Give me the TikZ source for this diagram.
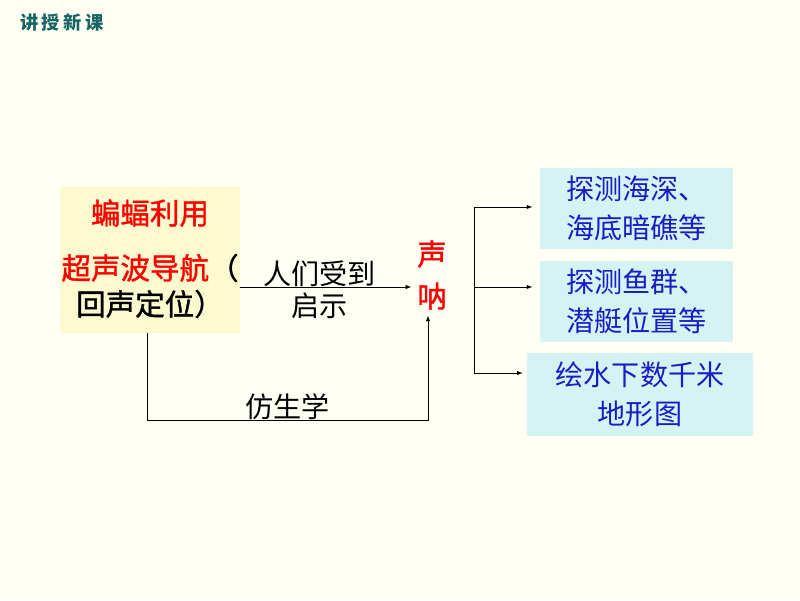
\documentclass[tikz,border=0pt]{standalone}
\usepackage{fontspec}
\newfontfamily\cjk{Noto Sans CJK SC}
\newfontfamily\cjkhei[FakeBold=1.2]{Noto Sans CJK SC}
\usetikzlibrary{positioning}

\definecolor{bgcream}{RGB}{255,255,243}
\definecolor{boxyellow}{RGB}{252,250,206}
\definecolor{boxcyan}{RGB}{214,243,243}
\definecolor{titleteal}{RGB}{24,100,100}
\definecolor{textblue}{RGB}{28,28,196}

\tikzset{
  box/.style={inner sep=0pt},
  line/.style={black, thin},
  word/.style={font=\cjk\fontsize{20}{28}\selectfont, inner sep=1pt},
  heiword/.style={font=\cjkhei\fontsize{21}{30}\selectfont, inner sep=1pt},
}

\begin{document}
\begin{tikzpicture}[x=0.025cm, y=-0.025cm, >=latex]
    % Fondo
    \fill[bgcream] (0,0) rectangle (800,600);
    \useasboundingbox (0,0) rectangle (800,600);

    % Titulo
    \node[titleteal, font=\cjk\bfseries\fontsize{13}{14}\selectfont] (title) at (62,22) {讲\hspace{2.5pt}授\hspace{2.5pt}新\hspace{2.5pt}课};

    % Cajas
    \node[box, fill=boxyellow, minimum width=4.5cm, minimum height=3.65cm] (bat) at (150,260) {};
    \node[box, fill=boxcyan, minimum width=4.83cm, minimum height=2.03cm] (deep) at (636.5,208.5) {};
    \node[box, fill=boxcyan, minimum width=4.83cm, minimum height=2.03cm] (fish) at (636.5,301.5) {};
    \node[box, fill=boxcyan, minimum width=5.65cm, minimum height=2.08cm] (map) at (640,394.5) {};

    % Textos de la caja amarilla
    \node[heiword, red] (batA) at (150,213) {蝙蝠利用};
    \node[heiword, red] (batB) at (150,268) {超声波导航\textcolor{black}{（}};
    \node[heiword] (batC) at (150,304) {回声定位）};

    % Textos de las cajas azules
    \node[word, textblue, align=center] (deepT) at (deep) {探测海深、\\海底暗礁等};
    \node[word, textblue, align=center] (fishT) at (fish) {探测鱼群、\\潜艇位置等};
    \node[word, textblue, align=center] (mapT) at (map) {绘水下数千米\\地形图};

    % Sonar
    \node[heiword, red, align=center, inner sep=4pt] (sonar) at (432,275) {声\\呐};

    % Flechas
    \draw[line, ->] (bat.east |- 0,287) -- (sonar.west |- 0,287)
        node[word, midway, above=-1pt, xshift=-0.15cm] (hintA) {人们受到}
        node[word, midway, below=3pt, xshift=-0.15cm] (hintB) {启示};
    \coordinate (bottom) at (147,420);
    \draw[line, ->] (bat.south -| bottom) -- (bottom) -| ([xshift=-0.1cm]sonar.south)
        node[word, pos=0.25, above=-1pt] (bionic) {仿生学};

    % Ramas
    \coordinate (forkA) at (474,207);
    \coordinate (forkB) at (474,287);
    \coordinate (forkC) at (474,373);
    \draw[line] (forkA) -- (forkC);
    \draw[line, ->, shorten >=0.18cm] (forkA) -- (forkA -| deep.west);
    \draw[line, ->, shorten >=0.18cm] (forkB) -- (forkB -| fish.west);
    \draw[line, ->, shorten >=0.1cm] (forkC) -- (forkC -| map.west);
\end{tikzpicture}
\end{document}
